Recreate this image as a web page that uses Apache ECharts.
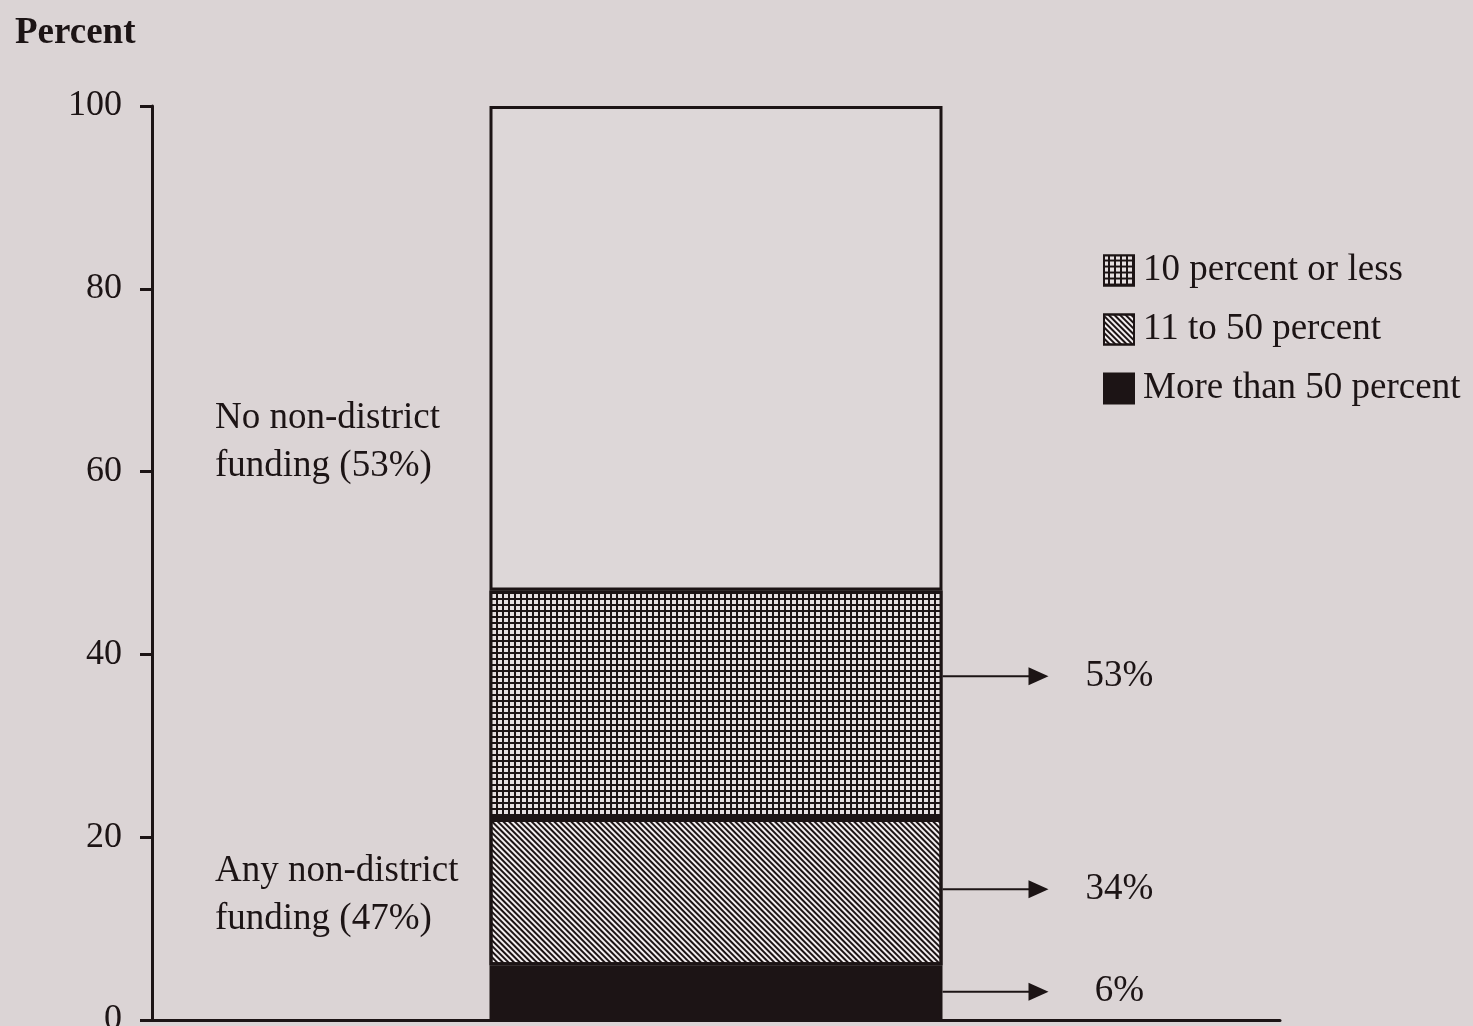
<!DOCTYPE html>
<html>
<head>
<meta charset="utf-8">
<script src="https://cdn.jsdelivr.net/npm/echarts@6/dist/echarts.min.js"></script>
<style>
  html, body { margin: 0; padding: 0; background: #dbd4d5; }
  #chart { width: 1473px; height: 1026px; }
</style>
</head>
<body>
<div id="chart"></div>
<script>
// values
var categories = ["All"];
var moreThan50 = [6];
var from11to50 = [16];
var tenOrLess = [25];
var noFunding = [53];
var yTicks = [0, 20, 40, 60, 80, 100];
var legendNames = ["10 percent or less", "11 to 50 percent", "More than 50 percent"];
var arrowAt = [37.6, 14.3, 3.1];
var arrowLabels = ["53%", "34%", "6%"];

var ink = "#1c1415";
var paper = "#dbd4d5";
var serif = "'Liberation Serif', 'DejaVu Serif', serif";
var barWidth = 453;

var chart = echarts.init(document.getElementById("chart"));

var gridDecal = {
  symbol: "rect",
  symbolSize: 1,
  color: "#e6e0e1",
  dashArrayX: [3.5, 1.5],
  dashArrayY: [3.5, 1.5]
};
var stripeDecal = {
  symbol: "rect",
  symbolSize: 1,
  color: ink,
  dashArrayX: [1, 0],
  dashArrayY: [1.5, 1.5],
  rotation: Math.PI / 4
};

function barSeries(name, data, color, decal, bw) {
  var st = { color: color, borderColor: ink, borderWidth: bw || 2 };
  if (decal) st.decal = decal;
  return {
    name: name,
    type: "bar",
    stack: "total",
    barWidth: barWidth,
    data: data,
    itemStyle: st,
    emphasis: { disabled: true },
    silent: true
  };
}

var option = {
  backgroundColor: paper,
  animation: false,
  title: {
    text: "Percent",
    left: 10,
    top: 10,
    textStyle: { fontFamily: serif, fontSize: 37, fontWeight: "bold", color: ink }
  },
  grid: { left: 152, right: 193, top: 106, bottom: 6, outerBoundsMode: "none", containLabel: false },
  legend: {
    data: legendNames,
    orient: "vertical",
    left: 1098,
    top: 247,
    itemWidth: 30,
    itemHeight: 30,
    itemGap: 22,
    icon: "rect",
    selectedMode: false,
    itemStyle: { borderColor: ink, borderWidth: 2 },
    textStyle: { fontFamily: serif, fontSize: 37, lineHeight: 37, color: ink, padding: [0, 0, 0, 4] }
  },
  xAxis: {
    type: "category",
    data: categories,
    axisLine: { lineStyle: { color: ink, width: 3 } },
    axisTick: { show: false },
    axisLabel: { show: false }
  },
  yAxis: {
    type: "value",
    min: yTicks[0],
    max: yTicks[yTicks.length - 1],
    interval: 20,
    splitLine: { show: false },
    axisLine: { show: true, lineStyle: { color: ink, width: 3 } },
    axisTick: { show: true, length: 12, lineStyle: { color: ink, width: 3 } },
    axisLabel: { margin: 30, fontFamily: serif, fontSize: 36, color: ink }
  },
  graphic: [
    {
      type: "text",
      left: 215,
      top: 394,
      style: {
        text: "No non-district\nfunding (53%)",
        font: "37px " + serif,
        lineHeight: 48,
        fill: ink
      }
    },
    {
      type: "text",
      left: 215,
      top: 847,
      style: {
        text: "Any non-district\nfunding (47%)",
        font: "37px " + serif,
        lineHeight: 48,
        fill: ink
      }
    }
  ],
  series: [
    barSeries("More than 50 percent", moreThan50, ink, null, 3),
    barSeries("11 to 50 percent", from11to50, "#f3eeef", stripeDecal, 3),
    barSeries("10 percent or less", tenOrLess, ink, gridDecal, 3),
    barSeries("No non-district funding", noFunding, "#ddd7d8", null, 3),
    {
      type: "custom",
      name: "arrows",
      silent: true,
      data: arrowAt.map(function (v, i) { return [0, v, i]; }),
      renderItem: function (params, api) {
        var p = api.coord([api.value(0), api.value(1)]);
        var x0 = p[0] + barWidth / 2;
        var y = p[1];
        var idx = api.value(2);
        return {
          type: "group",
          children: [
            { type: "line", shape: { x1: x0, y1: y, x2: x0 + 90, y2: y },
              style: { stroke: ink, lineWidth: 2 } },
            { type: "polygon", shape: { points: [[x0 + 86, y - 9], [x0 + 106, y], [x0 + 86, y + 9]] },
              style: { fill: ink } },
            { type: "text", x: x0 + 177, y: y,
              style: { text: arrowLabels[idx], font: "37px " + serif, fill: ink,
                       align: "center", verticalAlign: "middle" } }
          ]
        };
      }
    }
  ]
};

chart.setOption(option);
</script>
</body>
</html>
